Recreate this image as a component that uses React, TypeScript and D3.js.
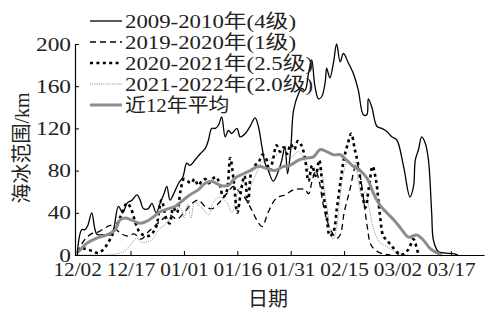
import React, { useEffect, useRef } from 'react';
import * as d3 from 'd3';

// days counted from 12/02
const tickDays = [0, 15, 30, 45, 60, 75, 90, 105];
const tickLabels = ['12/02', '12/17', '01/01', '01/16', '01/31', '02/15', '03/02', '03/17'];
const yTicks = [0, 40, 80, 120, 160, 200];

const days2009 = [0, 1.3, 2.2, 3, 4.1, 5.5, 7.4, 9.3, 10.2, 11.6, 12.8, 14, 15.4, 16.8, 17.7, 18.6, 20, 21, 22.2, 23.3, 24.4, 25.2, 26.1, 27, 28.5, 29.7, 30.8, 31.7, 33.1, 34.6, 36, 36.9, 37.8, 38.8, 39.7, 40.6, 41.6, 42.5, 43.4, 44.9, 45.8, 47.2, 48.6, 50, 50.9, 51.9, 52.8, 53.7, 55.1, 56.6, 57.5, 58.4, 59.1, 60, 60.8, 62.2, 63.1, 64, 65, 65.9, 66.8, 67.8, 68.7, 69.7, 70.1, 71, 72, 72.9, 73.9, 74.8, 76.2, 77.6, 79, 80.4, 81.4, 81.8, 82.8, 84.2, 85.6, 87, 88.4, 89.8, 91.7, 93.5, 94.5, 95, 95.9, 96.8, 97.8, 98.7, 99.6, 100.1, 101.5, 103, 106, 107];
const vals2009 = [0, 24, 24, 28, 40, 20, 19, 19, 24, 46, 40, 49, 52, 57, 52, 44, 44, 49, 40, 49, 58, 65, 52, 57, 68, 74, 87, 85, 90, 96, 101, 109, 120, 120, 123, 131, 112, 118, 115, 120, 112, 115, 122, 130, 122, 103, 87, 80, 70, 80, 90, 103, 77, 100, 137, 153, 158, 156, 172, 185, 160, 148, 150, 164, 177, 168, 182, 200, 183, 191, 182, 172, 156, 133, 133, 148, 140, 122, 120, 117, 112, 109, 84, 55, 65, 90, 100, 112, 106, 90, 40, 14, 3, 2, 1, 0];

const days2019 = [0, 2, 4, 6, 8, 9.5, 11, 12.5, 14, 16, 18, 20, 22, 24, 26, 28, 30, 32, 34, 36, 38, 40, 42, 44, 46, 47, 49, 50.5, 52, 53.6, 56, 58.4, 61, 64, 65, 66, 67, 68, 69, 70, 71.5, 73, 74, 75, 76.5, 78.5, 79.5, 80.5, 81.5, 82.5, 84, 86, 88];
const vals2019 = [2, 14, 20, 22, 26, 28, 24, 20, 18, 20, 15, 22, 28, 34, 38, 34, 40, 48, 52, 46, 44, 50, 58, 65, 58, 55, 43, 33, 27, 40, 54, 57, 62, 62, 58, 70, 80, 70, 50, 35, 22, 16, 20, 40, 60, 87, 75, 52, 27, 10, 4, 1, 0];

const days2020 = [0, 2, 4, 6, 8, 10, 12, 14, 15, 16, 17, 18, 20, 22, 23.7, 25, 26, 27, 28, 29, 30, 31, 32, 33, 34, 35, 36, 37, 38, 39, 40, 41, 42, 43, 44, 45, 46, 47, 48, 49, 50, 51, 52, 53, 54, 55, 56, 57, 58, 59, 60, 61, 62, 63, 64, 65, 66, 67, 68, 69, 70, 71, 72, 73, 74, 75, 76, 77, 78, 79, 80, 81, 82, 83, 84, 85, 86, 87, 88, 89, 90, 91, 93, 94.5, 95.5, 96];
const vals2020 = [3, 6, 4, 2, 8, 20, 35, 49, 45, 35, 25, 20, 18, 25, 52, 35, 30, 45, 40, 60, 72, 70, 68, 72, 66, 70, 72, 68, 72, 74, 68, 55, 60, 92, 70, 40, 60, 75, 50, 80, 85, 88, 95, 92, 80, 90, 104, 98, 102, 96, 105, 100, 108, 104, 92, 70, 85, 75, 90, 62, 40, 18, 22, 45, 70, 92, 105, 115, 100, 85, 60, 45, 65, 84, 70, 40, 18, 14, 10, 6, 2, 0, 5, 15, 5, 0];

const days2021 = [0, 4, 8, 11, 13, 14.6, 16.8, 18, 20.8, 23, 25, 27, 29, 30, 31, 32, 33, 35, 37, 38, 40, 42, 43.5, 45, 47, 48, 50, 52, 54, 56, 58, 60, 62, 64, 66, 68, 70, 71, 72, 73, 74, 75, 76, 77, 78, 79, 80, 81, 82, 83, 84, 85, 87, 89, 91, 93];
const vals2021 = [0, 0, 0, 1, 3, 8, 16, 12, 14, 24, 30, 40, 45, 35, 48, 35, 50, 45, 38, 48, 55, 50, 40, 58, 70, 62, 75, 88, 90, 95, 100, 92, 98, 90, 75, 82, 50, 25, 15, 28, 60, 80, 90, 85, 88, 70, 55, 60, 45, 28, 18, 12, 8, 4, 1, 0];

const daysMean = [0.4, 2.7, 5.5, 8.3, 10.7, 12, 13.5, 15.4, 17.7, 19.6, 21.4, 23.3, 25.7, 27.5, 29.4, 31.7, 34.1, 36, 37.8, 40.2, 42.5, 44.4, 46.7, 48.6, 50.9, 53.3, 55.6, 58, 59.8, 62.2, 64.5, 66.4, 68.3, 70.1, 72, 73.9, 75.7, 77.6, 79.5, 81.4, 83.3, 85.1, 87, 89.3, 91.2, 93.1, 95.4, 97.3, 99.2, 101.1, 102.5];
const valsMean = [3, 11, 16, 19, 24, 33, 35, 33, 30, 32, 36, 41, 44, 46, 51, 57, 62, 68, 70, 66, 66, 73, 77, 80, 84, 82, 80, 84, 85, 90, 92, 93, 100, 98, 95, 95, 90, 84, 80, 73, 58, 47, 40, 32, 24, 17, 19, 14, 6, 2, 0];

const legendLabels = ['2009-2010年(4级)', '2019-2020年(1级)', '2020-2021年(2.5级)', '2021-2022年(2.0级)', '近12年平均'];

const series = [
  { days: days2009, vals: vals2009, color: '#000', width: 1.3, dash: null },
  { days: days2019, vals: vals2019, color: '#000', width: 1.3, dash: '6,4' },
  { days: days2021, vals: vals2021, color: '#8a8a8a', width: 1, dash: '1,1.2' },
  { days: days2020, vals: vals2020, color: '#000', width: 2.6, dash: '3,3.4' },
  { days: daysMean, vals: valsMean, color: '#8c8c8c', width: 3, dash: null },
];
// legend order follows legendLabels
const legendStyle = [series[0], series[1], series[3], series[2], series[4]];

const W = 486;
const H = 309;
const FONT = '"Liberation Serif", "Noto Sans CJK SC", serif';

const App: React.FC = () => {
  const svgRef = useRef<SVGSVGElement>(null);

  useEffect(() => {
    if (!svgRef.current) return;
    document.body.style.margin = '0';
    const svg = d3.select(svgRef.current);
    svg.selectAll('*').remove();

    const x = d3.scaleLinear().domain([-0.6, 114.3]).range([75, 484]);
    const y = d3.scaleLinear().domain([0, 200]).range([255, 44]);

    // latin glyphs in the source are wider than Liberation Serif
    const stretch = (sel: d3.Selection<any, any, any, any>, k: number) =>
      sel.each(function (this: SVGTextElement) {
        const len = this.getComputedTextLength();
        d3.select(this).attr('textLength', len * k).attr('lengthAdjust', 'spacingAndGlyphs');
      });

    // lines
    const line = d3.line<[number, number]>()
      .x(d => x(d[0]))
      .y(d => y(d[1]))
      .curve(d3.curveCatmullRom.alpha(0.5));

    series.forEach(s => {
      const pts = s.days.map((d, i) => [d, s.vals[i]] as [number, number]);
      svg.append('path')
        .attr('d', line(pts))
        .attr('fill', 'none')
        .attr('stroke', s.color)
        .attr('stroke-width', s.width)
        .attr('stroke-dasharray', s.dash)
        .attr('stroke-linejoin', 'round');
    });

    // X axis
    const gx = svg.append('g').attr('transform', 'translate(0,255)');
    gx.call(d3.axisBottom(x).tickValues(tickDays).tickSizeInner(-4).tickSizeOuter(0).tickFormat((d, i) => tickLabels[i]))
      .call(g => g.select('.domain').attr('stroke', '#000').attr('stroke-width', 1.2))
      .call(g => g.selectAll('.tick line').attr('stroke', '#000'))
      .call(g => g.selectAll('text').attr('fill', '#222').attr('font-size', 19).attr('font-family', FONT).attr('dy', '0.35em').attr('y', 14));
    stretch(gx.selectAll('text'), 1.12);

    // Y axis
    const gy = svg.append('g').attr('transform', 'translate(75,0)');
    gy.call(d3.axisLeft(y).tickValues(yTicks).tickSizeInner(-4).tickSizeOuter(0))
      .call(g => g.select('.domain').attr('stroke', '#000').attr('stroke-width', 1.2))
      .call(g => g.selectAll('.tick line').attr('stroke', '#000'))
      .call(g => g.selectAll('text').attr('fill', '#222').attr('font-size', 19).attr('font-family', FONT).attr('x', -4));
    stretch(gy.selectAll('text'), 1.23);

    // titles
    svg.append('text')
      .attr('x', 268).attr('y', 306)
      .attr('text-anchor', 'middle')
      .attr('font-size', 20).attr('font-family', FONT).attr('fill', '#222')
      .text('日期');
    svg.append('text')
      .attr('transform', 'translate(29,148) rotate(-90)')
      .attr('text-anchor', 'middle')
      .attr('font-size', 20).attr('font-family', FONT).attr('fill', '#222')
      .text('海冰范围/km');

    // legend
    const lg = svg.append('g');
    legendLabels.forEach((lab, i) => {
      const s = legendStyle[i];
      const cy = 21 + i * 21;
      lg.append('line')
        .attr('x1', 90).attr('x2', 122).attr('y1', cy).attr('y2', cy)
        .attr('stroke', s.color).attr('stroke-width', s.width)
        .attr('stroke-dasharray', s.dash);
      const t = lg.append('text')
        .attr('x', 125).attr('y', cy).attr('dy', '0.35em')
        .attr('font-size', 19).attr('font-family', FONT).attr('fill', '#222')
        .text(lab);
      stretch(t, i === 4 ? 1.1 : 1.2);
    });
  }, []);

  return <svg ref={svgRef} width={W} height={H} style={{ display: 'block', background: '#fff' }} />;
};

export default App;
